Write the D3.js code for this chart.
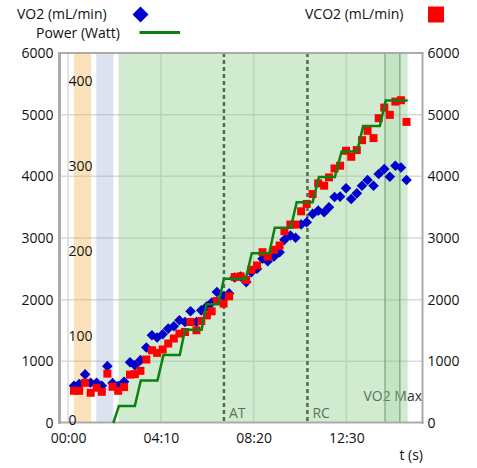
<!DOCTYPE html>
<html>
<head>
<meta charset="utf-8">
<script src="https://cdn.jsdelivr.net/npm/d3@7"></script>
<style>
  body { margin: 0; background: #fff; }
  text { font-family: "Open Sans", sans-serif; }
</style>
</head>
<body>
<svg id="chart" width="477" height="468"></svg>
<script>
// Breath samples: time (s), VO2 and VCO2 (mL/min)
const times = [16,30,46,61,77,91,106,120,135,151,167,180,195,211,226,240,255,270,285,300,
  315,330,346,359,374,387,401,419,434,449,465,480,494,509,524,538,555,570,583,599,
  613,628,643,659,674,690,703,718,733,749,763,778,792,807,823,837,852,867,882,897,912];
const vo2 = [603,631,788,652,652,603,922,647,598,668,986,938,1019,1224,1423,1386,1439,1531,1568,1666,
  1638,1811,1638,1827,1892,1952,2123,2054,2102,2360,2377,2285,2447,2501,2663,2624,2700,2770,2970,3040,
  3003,3218,3255,3391,3444,3417,3498,3666,3671,3808,3633,3724,3848,3941,3848,4038,4118,3994,4172,4144,3941];
const vco2 = [522,522,652,490,571,506,800,587,522,582,784,792,846,1030,1180,1137,1192,1289,1370,1450,
  1476,1638,1504,1654,1746,1811,1978,1936,2054,2366,2377,2320,2485,2555,2770,2700,2809,2878,3110,3218,
  3218,3433,3553,3714,3886,3848,3983,4127,4172,4414,4317,4426,4587,4738,4620,4943,5115,4997,5212,5234,4883];

// Ergometer power protocol (Watt) at its change points
const powerTimes = [122,137,180,196,241,257,301,315,360,373,405,420,479,495,542,557,600,616,659,676,719,737,779,795,840,856,915];
const powerWatts = [0,20,20,50,50,80,80,110,110,140,140,170,170,200,200,230,230,260,260,290,290,320,320,350,350,380,380];

// Test phases (s)
const restPhase = [16, 62];
const warmupPhase = [76, 122];
const exercisePhase = [136, 915];
const maxPhase = [854, 894];
const thresholds = [{ label: "AT", t: 420 }, { label: "RC", t: 645 }];

// Axis ticks
const gasTicks = [0, 1000, 2000, 3000, 4000, 5000, 6000];
const powerTicks = [0, 100, 200, 300, 400];
const timeTicks = [0, 250, 500, 750];

const svg = d3.select("#chart");
const x = d3.scaleLinear().domain([-23, 955]).range([59.5, 422.5]);
const y = d3.scaleLinear().domain([0, 6000]).range([423, 53]);
const yP = d3.scaleLinear().domain([0, 436]).range([423, 53]);
const two = d3.format("02d");
const fmtTime = t => two(Math.floor(t / 60)) + ":" + two(t % 60);

// Grid
const grid = svg.append("g").attr("stroke", "#d9d9d9").attr("stroke-width", 1.5);
grid.selectAll("line.h").data(gasTicks.slice(1, -1)).join("line")
  .attr("x1", x.range()[0]).attr("x2", x.range()[1]).attr("y1", d => y(d)).attr("y2", d => y(d));
grid.selectAll("line.v").data(timeTicks).join("line")
  .attr("y1", y.range()[0]).attr("y2", y.range()[1]).attr("x1", d => x(d)).attr("x2", d => x(d));

// Threshold markers (sit under the phase tint)
svg.append("g").selectAll("line").data(thresholds).join("line")
  .attr("x1", d => x(d.t)).attr("x2", d => x(d.t))
  .attr("y1", y.range()[1]).attr("y2", y.range()[0])
  .attr("stroke", "#2a2a2a").attr("stroke-width", 2.5).attr("stroke-dasharray", "4,3");
svg.append("g").selectAll("text").data(thresholds).join("text")
  .attr("x", d => x(d.t) + 5).attr("y", 418)
  .attr("font-size", 14).attr("fill", "#333").text(d => d.label);
svg.append("text").attr("x", 422).attr("y", 401).attr("text-anchor", "end")
  .attr("font-size", 14).attr("fill", "#333").text("VO2 Max");

// Phase bands
const band = (r, fill) => svg.append("rect")
  .attr("x", x(r[0])).attr("width", x(r[1]) - x(r[0]))
  .attr("y", y.range()[1]).attr("height", y.range()[0] - y.range()[1])
  .attr("fill", fill);
band(restPhase, "rgba(240,178,66,0.36)");
band(warmupPhase, "rgba(150,165,212,0.32)");
band(exercisePhase, "rgba(140,204,140,0.4)");
band(maxPhase, "rgba(140,204,140,0.18)");
svg.append("g").selectAll("line").data(maxPhase).join("line")
  .attr("x1", d => x(d)).attr("x2", d => x(d)).attr("y1", y.range()[1]).attr("y2", y.range()[0])
  .attr("stroke", "#7f9f7f").attr("stroke-width", 1.2);

// Frame
const frame = svg.append("g").attr("stroke", "#ababab").attr("fill", "none");
frame.append("line").attr("x1", x.range()[0]).attr("x2", x.range()[0]).attr("y1", 52).attr("y2", 424).attr("stroke-width", 3);
frame.append("line").attr("x1", x.range()[1]).attr("x2", x.range()[1]).attr("y1", 52).attr("y2", 424).attr("stroke-width", 2);
frame.append("line").attr("x1", 58).attr("x2", 423.5).attr("y1", 53).attr("y2", 53).attr("stroke-width", 2);
frame.append("line").attr("x1", 58).attr("x2", 423.5).attr("y1", 422.5).attr("y2", 422.5).attr("stroke-width", 2);

// Axes
function styleAxis(g) {
  g.select(".domain").remove();
  g.selectAll("text").attr("font-size", 14).attr("fill", "#111").style("font-family", "'Open Sans', sans-serif");
}
const intFmt = d3.format("d");
svg.append("g").attr("transform", `translate(${x.range()[0]},0)`)
  .call(d3.axisLeft(y).tickValues(gasTicks).tickFormat(intFmt).tickSize(0).tickPadding(6)).call(styleAxis);
svg.append("g").attr("transform", `translate(${x.range()[1]},0)`)
  .call(d3.axisRight(y).tickValues(gasTicks).tickFormat(intFmt).tickSize(0).tickPadding(5)).call(styleAxis);
svg.append("g").attr("transform", `translate(${x(0)},-2.5)`)
  .call(d3.axisRight(yP).tickValues(powerTicks).tickFormat(intFmt).tickSize(0).tickPadding(0.5)).call(styleAxis);
svg.append("g").attr("transform", `translate(0,${y.range()[0]})`)
  .call(d3.axisBottom(x).tickValues(timeTicks).tickFormat(fmtTime).tickSize(0).tickPadding(10)).call(styleAxis);
svg.append("text").attr("x", 423).attr("y", 460).attr("text-anchor", "end")
  .attr("font-size", 14).attr("fill", "#111").text("t (s)");

// Data
const pts = times.map((t, i) => ({ t, vo2: vo2[i], vco2: vco2[i] }));
const diamond = d3.symbol(d3.symbolSquare, 56);
const square = d3.symbol(d3.symbolSquare, 64);
svg.append("g").selectAll("path").data(pts).join("path")
  .attr("d", diamond).attr("fill", "#0000cc")
  .attr("transform", d => `translate(${x(d.t)},${y(d.vo2)}) rotate(45)`);
svg.append("g").selectAll("path").data(pts).join("path")
  .attr("d", square).attr("fill", "#ff0000")
  .attr("transform", d => `translate(${x(d.t)},${y(d.vco2)})`);

const power = powerTimes.map((t, i) => ({ t, w: powerWatts[i] }));
svg.append("path").datum(power)
  .attr("d", d3.line().x(d => x(d.t)).y(d => yP(d.w)))
  .attr("fill", "none").attr("stroke", "#0e800e").attr("stroke-width", 2.5);

// Legend
const legend = svg.append("g").attr("font-size", 14).attr("fill", "#111");
legend.append("text").attr("x", 17).attr("y", 19).text("VO2 (mL/min)");
legend.append("path").attr("d", d3.symbol(d3.symbolSquare, 128))
  .attr("transform", "translate(140.5,14.5) rotate(45)").attr("fill", "#0000cc");
legend.append("text").attr("x", 36).attr("y", 38).text("Power (Watt)");
legend.append("line").attr("x1", 139.5).attr("x2", 180).attr("y1", 32.5).attr("y2", 32.5)
  .attr("stroke", "#0e800e").attr("stroke-width", 3);
legend.append("text").attr("x", 305).attr("y", 19).text("VCO2 (mL/min)");
legend.append("path").attr("d", d3.symbol(d3.symbolSquare, 256))
  .attr("transform", "translate(436,14.5)").attr("fill", "#ff0000");
</script>
</body>
</html>
